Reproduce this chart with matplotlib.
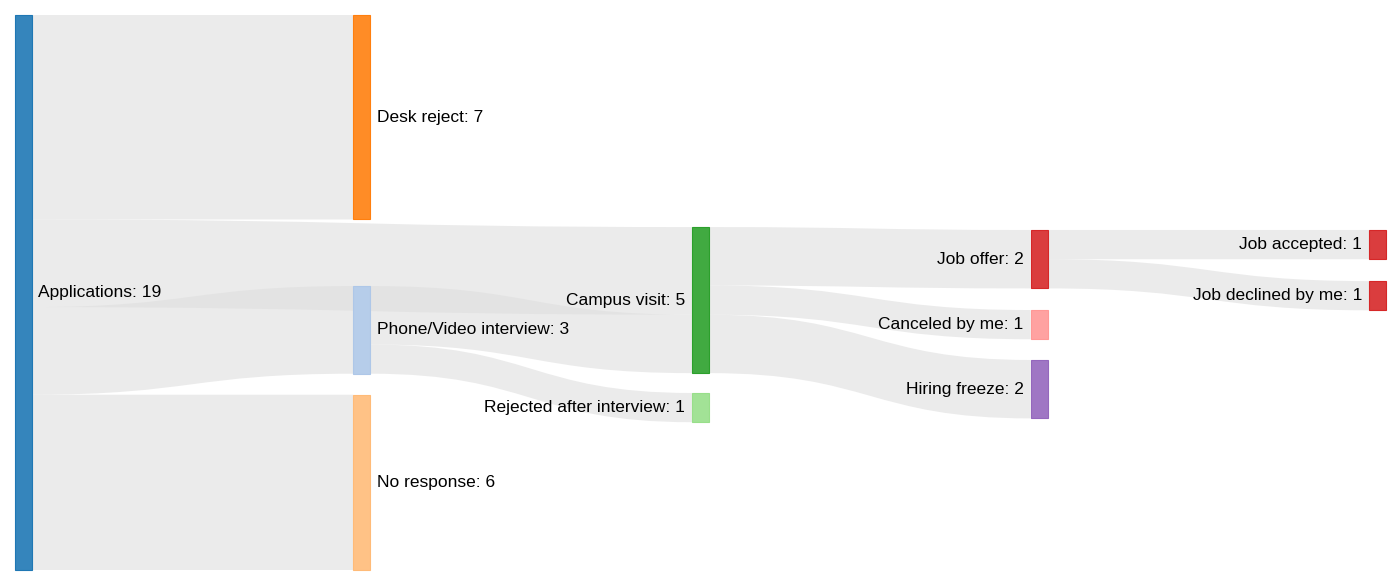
import matplotlib
matplotlib.use("Agg")
import matplotlib.pyplot as plt
from matplotlib.path import Path
from matplotlib.patches import PathPatch, Rectangle
import matplotlib.colors as mcolors

# ---- data ----
nodes = ["Applications", "Desk reject", "Phone/Video interview", "No response",
         "Campus visit", "Rejected after interview", "Job offer", "Canceled by me",
         "Hiring freeze", "Job accepted", "Job declined by me"]
link_source = ["Applications", "Applications", "Applications", "Applications",
               "Phone/Video interview", "Phone/Video interview",
               "Campus visit", "Campus visit", "Campus visit",
               "Job offer", "Job offer"]
link_target = ["Desk reject", "Campus visit", "Phone/Video interview", "No response",
               "Campus visit", "Rejected after interview",
               "Job offer", "Canceled by me", "Hiring freeze",
               "Job accepted", "Job declined by me"]
link_value = [7, 3, 3, 6, 2, 1, 2, 1, 2, 1, 1]

# ---- layout / style ----
node_column = {"Applications": 0, "Desk reject": 1, "Phone/Video interview": 1,
               "No response": 1, "Campus visit": 2, "Rejected after interview": 2,
               "Job offer": 3, "Canceled by me": 3, "Hiring freeze": 3,
               "Job accepted": 4, "Job declined by me": 4}
# vertical offset of each node's top (in value units)
node_top = {"Applications": 0.0, "Desk reject": 0.0, "Phone/Video interview": 9.28,
            "No response": 13.0, "Campus visit": 7.26, "Rejected after interview": 12.94,
            "Job offer": 7.36, "Canceled by me": 10.1, "Hiring freeze": 11.81,
            "Job accepted": 7.36, "Job declined by me": 9.11}
node_color = {"Applications": "#1f77b4", "Desk reject": "#ff7f0e",
              "Phone/Video interview": "#aec7e8", "No response": "#ffbb78",
              "Campus visit": "#2ca02c", "Rejected after interview": "#98df8a",
              "Job offer": "#d62728", "Canceled by me": "#ff9896",
              "Hiring freeze": "#9467bd", "Job accepted": "#d62728",
              "Job declined by me": "#d62728"}

W, H = 1400, 584
px_per_unit = 555 / 19.0
top_margin = 15
col_x0, col_step, node_w = 14.5, 338.7, 17

plt.rcParams['font.family'] = ['Liberation Sans', 'DejaVu Sans']
fig = plt.figure(figsize=(W / 100, H / 100), dpi=100)
ax = fig.add_axes([0, 0, 1, 1])
ax.set_xlim(0, W)
ax.set_ylim((H - top_margin) / px_per_unit, -top_margin / px_per_unit)
ax.axis("off")

# node values
node_in = {n: 0 for n in nodes}
node_out = {n: 0 for n in nodes}
for s, t, v in zip(link_source, link_target, link_value):
    node_out[s] += v
    node_in[t] += v
node_val = {n: max(node_in[n], node_out[n]) for n in nodes}

def nx(n):
    return col_x0 + node_column[n] * col_step

# links
out_off = {n: node_top[n] for n in nodes}
in_off = {n: node_top[n] for n in nodes}
for s, t, v in zip(link_source, link_target, link_value):
    x0 = nx(s) + node_w
    x1 = nx(t)
    ys0, ys1 = out_off[s], out_off[s] + v
    yt0, yt1 = in_off[t], in_off[t] + v
    out_off[s] += v
    in_off[t] += v
    xm = (x0 + x1) / 2
    verts = [(x0, ys0), (xm, ys0), (xm, yt0), (x1, yt0),
             (x1, yt1), (xm, yt1), (xm, ys1), (x0, ys1), (x0, ys0)]
    codes = [Path.MOVETO, Path.CURVE4, Path.CURVE4, Path.CURVE4,
             Path.LINETO, Path.CURVE4, Path.CURVE4, Path.CURVE4, Path.CLOSEPOLY]
    ax.add_patch(PathPatch(Path(verts, codes), facecolor=(0.87, 0.87, 0.87, 0.6),
                           edgecolor="none", zorder=1))

# nodes and labels
for n in nodes:
    c = mcolors.to_rgb(node_color[n])
    fill = tuple(0.9 * ci + 0.1 for ci in c)
    ax.add_patch(Rectangle((nx(n), node_top[n]), node_w, node_val[n],
                           facecolor=fill, edgecolor=c, linewidth=0.8, zorder=3))
    yc = node_top[n] + node_val[n] / 2
    label = f"{n}: {node_val[n]}"
    if node_column[n] <= 1:
        ax.text(nx(n) + node_w + 7, yc, label, ha="left", va="center",
                fontsize=12.5, color="black", zorder=4)
    else:
        ax.text(nx(n) - 7, yc, label, ha="right", va="center",
                fontsize=12.5, color="black", zorder=4)

fig.savefig("out.png", dpi=100, facecolor="white")
